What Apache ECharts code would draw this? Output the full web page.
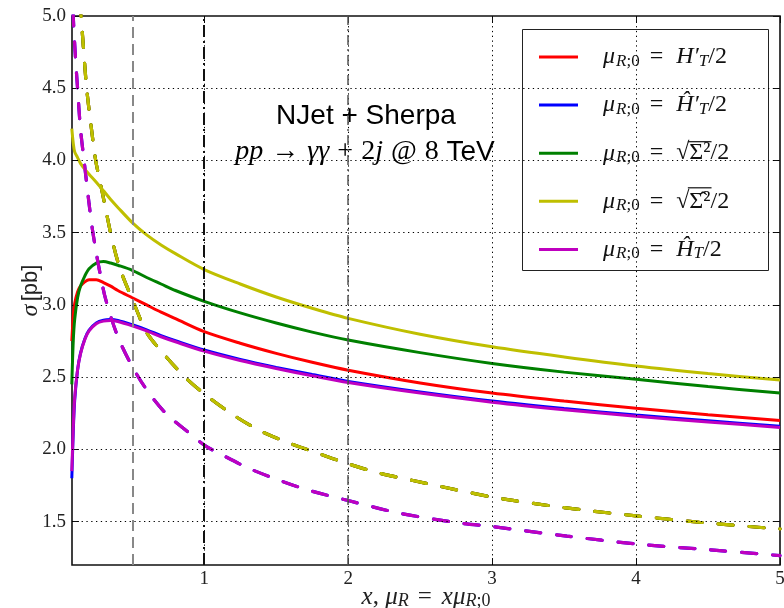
<!DOCTYPE html>
<html><head><meta charset="utf-8">
<script src="https://cdn.jsdelivr.net/npm/echarts@6/dist/echarts.min.js"></script>
<style>html,body{margin:0;padding:0;background:#fff}#c{width:784px;height:608px}</style>
</head><body><div id="c"></div>
<script>
// ---- data ----
const xNLO = [0.08, 0.09, 0.1, 0.12, 0.14, 0.17, 0.2, 0.25, 0.3, 0.35, 0.4, 0.5, 0.6, 0.7, 0.8, 1.0, 1.25, 1.5, 1.75, 2.0, 2.5, 3.0, 3.5, 4.0, 4.5, 5.0];
const redNLO     = [2.75, 2.92, 3.01, 3.09, 3.13, 3.16, 3.175, 3.175, 3.155, 3.13, 3.10, 3.05, 3.00, 2.95, 2.905, 2.815, 2.735, 2.665, 2.603, 2.548, 2.46, 2.39, 2.335, 2.285, 2.24, 2.20];
const blueNLO    = [1.80, 2.12, 2.34, 2.55, 2.665, 2.765, 2.826, 2.876, 2.895, 2.899, 2.893, 2.863, 2.828, 2.788, 2.753, 2.688, 2.623, 2.568, 2.518, 2.471, 2.398, 2.335, 2.283, 2.238, 2.198, 2.16];
const greenNLO   = [2.45, 2.75, 2.90, 3.05, 3.13, 3.20, 3.25, 3.29, 3.30, 3.29, 3.275, 3.24, 3.19, 3.145, 3.10, 3.025, 2.945, 2.875, 2.812, 2.757, 2.67, 2.595, 2.535, 2.485, 2.435, 2.39];
const yellowNLO  = [4.22, 4.12, 4.06, 4.02, 3.98, 3.94, 3.905, 3.85, 3.79, 3.73, 3.675, 3.57, 3.485, 3.415, 3.355, 3.245, 3.145, 3.055, 2.977, 2.907, 2.797, 2.71, 2.64, 2.577, 2.525, 2.48];
const magentaNLO = [1.85, 2.15, 2.36, 2.55, 2.66, 2.76, 2.82, 2.87, 2.888, 2.892, 2.885, 2.855, 2.82, 2.78, 2.745, 2.68, 2.615, 2.56, 2.51, 2.463, 2.39, 2.327, 2.275, 2.23, 2.19, 2.152];

const xLOa = [0.135, 0.144, 0.16, 0.183, 0.21, 0.246, 0.28, 0.31, 0.357, 0.415, 0.5, 0.6, 0.708, 0.859, 1.0, 1.2, 1.387, 1.6, 1.8, 2.0, 2.22, 2.45, 2.66, 3.0, 3.31, 3.6, 4.0, 4.44, 4.9, 5.0];
const loA     = [5.10, 5.00, 4.79, 4.50, 4.27, 4.00, 3.835, 3.69, 3.465, 3.25, 3.04, 2.81, 2.673, 2.507, 2.385, 2.24, 2.13, 2.04, 1.97, 1.90, 1.835, 1.785, 1.74, 1.67, 1.623, 1.585, 1.54, 1.496, 1.457, 1.45];
const xLOb = [0.085, 0.09, 0.105, 0.12, 0.14, 0.165, 0.18, 0.2, 0.222, 0.25, 0.276, 0.315, 0.392, 0.477, 0.588, 0.732, 0.889, 1.0, 1.132, 1.317, 1.526, 1.734, 2.0, 2.36, 2.776, 3.0, 3.52, 4.0, 4.51, 5.0];
const loB     = [5.25, 5.00, 4.72, 4.50, 4.22, 4.00, 3.87, 3.70, 3.53, 3.36, 3.22, 3.04, 2.80, 2.616, 2.43, 2.25, 2.119, 2.03, 1.958, 1.866, 1.785, 1.715, 1.646, 1.558, 1.49, 1.466, 1.40, 1.346, 1.305, 1.265];

const xTicks = [1, 2, 3, 4, 5];
const yTicks = [1.5, 2.0, 2.5, 3.0, 3.5, 4.0, 4.5, 5.0];
const xGrid = [1, 2, 3, 4];
const yGrid = [1.5, 2.0, 2.5, 3.0, 3.5, 4.0, 4.5];
const seriesNames = ['HTp', 'HTpHat', 'Sig', 'SigHat', 'HTHat'];
const legendLabels = {
  HTp:    '{mu|μ}{si|R}{su|;0}{eq|=}{it|H′}{si|T}{up|/2}',
  HTpHat: '{mu|μ}{si|R}{su|;0}{eq|=}{it|Ĥ′}{si|T}{up|/2}',
  Sig:    '{mu|μ}{si|R}{su|;0}{eq|=}{up|√}{ov|Σ²}{up|/2}',
  SigHat: '{mu|μ}{si|R}{su|;0}{eq|=}{up|√}{ov|Σ̂²}{up|/2}',
  HTHat:  '{mu|μ}{si|R}{su|;0}{eq|=}{it|Ĥ}{si|T}{up|/2}'
};

const C = {red:'#ff0000', blue:'#0000ff', green:'#008000', yellow:'#bfbf00', magenta:'#bf00bf'};
const pairs = (xs, ys) => xs.map((x, i) => [x, ys[i]]);
const SERIF = 'Liberation Serif';
const SANS = 'Liberation Sans';

function solid(name, color, ys) {
  return {name, type:'line', data: pairs(xNLO, ys), color, showSymbol:false, smooth:0.3,
    lineStyle:{color, width:3}, z:3};
}
function dashed(name, color, xs, ys) {
  return {name, type:'line', data: pairs(xs, ys), color, showSymbol:false, smooth:0.3,
    lineStyle:{color, width:3.2, type:[15, 16], cap:'round'}, z:3};
}

const gridLine = {color:'#000', width:1, type:[1.3, 3.5]};
const markData = [];
xGrid.forEach(v => markData.push({xAxis:v, lineStyle:gridLine}));
yGrid.forEach(v => markData.push({yAxis:v, lineStyle:gridLine}));
markData.push({xAxis:0.5, lineStyle:{color:'#888', width:2, type:[11, 6]}});
markData.push({xAxis:1, lineStyle:{color:'#111', width:2, type:[12, 4, 2, 4]}});
markData.push({xAxis:2, lineStyle:{color:'#555', width:1.5, type:[10, 4, 2, 4]}});

const LF = 24, LS = 17, EQL = 10, EQR = 13;
const richLeg = {
  mu:{fontFamily:SERIF, fontStyle:'italic', fontSize:LF, lineHeight:26, padding:[0,1,0,20]},
  it:{fontFamily:SERIF, fontStyle:'italic', fontSize:LF, lineHeight:26},
  up:{fontFamily:SERIF, fontSize:LF, lineHeight:26},
  eq:{fontFamily:SERIF, fontSize:LF, lineHeight:26, padding:[0,EQR,0,EQL]},
  ov:{fontFamily:SERIF, fontSize:LF, lineHeight:26},
  si:{fontFamily:SERIF, fontStyle:'italic', fontSize:LS, lineHeight:13, verticalAlign:'bottom'},
  su:{fontFamily:SERIF, fontSize:LS, lineHeight:13, verticalAlign:'bottom'}
};

const option = {
  animation:false,
  backgroundColor:'#fff',
  grid:{left:72, top:16, right:4, bottom:43, show:true, outerBoundsMode:'none', containLabel:false,
        borderColor:'#111', borderWidth:1.6, backgroundColor:'rgba(0,0,0,0)'},
  xAxis:[
    {type:'value', min:0.0813, max:5, position:'bottom',
     axisLine:{show:false}, splitLine:{show:false},
     axisTick:{show:true, inside:true, length:7, customValues:xTicks, lineStyle:{color:'#111', width:1}},
     axisLabel:{customValues:xTicks, margin:5, fontFamily:SERIF, fontSize:19, color:'#222'},
     name:'{it|x}{up|, }{it|μ}{si|R}{eq|=}{it|xμ}{si|R}{su|;0}', nameLocation:'middle', nameGap:19, nameMoveOverlap:false,
     nameTextStyle:{color:'#222', rich:{
       it:{fontFamily:SERIF, fontStyle:'italic', fontSize:25, lineHeight:26},
       up:{fontFamily:SERIF, fontSize:25, lineHeight:26},
       eq:{fontFamily:SERIF, fontSize:25, lineHeight:26, padding:[0,10,0,9]},
       si:{fontFamily:SERIF, fontStyle:'italic', fontSize:18, lineHeight:13, verticalAlign:'bottom'},
       su:{fontFamily:SERIF, fontSize:18, lineHeight:13, verticalAlign:'bottom'}
     }}},
    {type:'value', min:0.0813, max:5, position:'top',
     axisLine:{show:false}, splitLine:{show:false},
     axisTick:{show:true, inside:true, length:7, customValues:xTicks, lineStyle:{color:'#111', width:1}},
     axisLabel:{show:false}}
  ],
  yAxis:[
    {type:'value', min:1.2, max:5, position:'left',
     axisLine:{show:false}, splitLine:{show:false},
     axisTick:{show:true, inside:true, length:7, customValues:yTicks, lineStyle:{color:'#111', width:1}},
     axisLabel:{customValues:yTicks, margin:6, fontFamily:SERIF, fontSize:19, color:'#222', formatter:v => v.toFixed(1)},
     name:'{it|σ} {sf|[pb]}', nameLocation:'middle', nameGap:29, nameRotate:90, nameMoveOverlap:false,
     nameTextStyle:{color:'#222', rich:{
       it:{fontFamily:SERIF, fontStyle:'italic', fontSize:24},
       sf:{fontFamily:SANS, fontSize:22}
     }}},
    {type:'value', min:1.2, max:5, position:'right',
     axisLine:{show:false}, splitLine:{show:false},
     axisTick:{show:true, inside:true, length:7, customValues:yTicks, lineStyle:{color:'#111', width:1}},
     axisLabel:{show:false}}
  ],
  legend:{
    orient:'vertical', left:539, top:45, padding:0, itemWidth:39, itemHeight:3, itemGap:23.1,
    icon:'rect', z:6,
    data:seriesNames,
    formatter:n => legendLabels[n],
    textStyle:{color:'#111', rich:richLeg}
  },
  graphic:[
    {id:'legbox', type:'rect', shape:{x:522.5, y:29.5, width:246, height:241}, style:{fill:'#fff', stroke:'#222', lineWidth:1}, z:5},
    {id:'t1', type:'text', x:366, y:116, z:5, style:{text:'NJet + Sherpa', font:'28px "Liberation Sans"', fill:'#000', align:'center', verticalAlign:'middle'}},
    {id:'t2', type:'text', x:365, y:152, z:5, style:{
      text:'{mi|pp}{mo|→}{mi|γγ}{mo|+}{up|2}{mi|j}{mo|@}{up|8}{sf| TeV}',
      align:'center', verticalAlign:'middle', fill:'#000',
      rich:{
        mi:{fontFamily:SERIF, fontStyle:'italic', fontSize:28, lineHeight:30},
        up:{fontFamily:SERIF, fontSize:28, lineHeight:30},
        mo:{fontFamily:SERIF, fontSize:28, lineHeight:30, padding:[0,8,0,8]},
        sf:{fontFamily:SANS, fontSize:28, lineHeight:30}
      }}}
  ],
  series:[
    {name:'grid', type:'line', data:[], z:1, silent:true,
     markLine:{silent:true, symbol:'none', label:{show:false}, animation:false, data:markData}},
    solid('HTp', C.red, redNLO),
    dashed('HTp LO', C.red, xLOa, loA),
    solid('HTpHat', C.blue, blueNLO),
    dashed('HTpHat LO', C.blue, xLOb, loB),
    solid('Sig', C.green, greenNLO),
    dashed('Sig LO', C.green, xLOa, loA),
    solid('SigHat', C.yellow, yellowNLO),
    dashed('SigHat LO', C.yellow, xLOa, loA),
    solid('HTHat', C.magenta, magentaNLO),
    dashed('HTHat LO', C.magenta, xLOb, loB)
  ]
};
const chart = echarts.init(document.getElementById('c'), null, {renderer:'canvas'});
chart.setOption(option);

// overline of the square roots in the legend, placed from the laid-out legend text
(function addOverlines() {
  try {
    const lm = chart.getModel().getComponent('legend');
    const view = chart.getViewOfComponentModel(lm);
    const texts = [];
    view.getContentGroup().traverse(el => { if (el.type === 'text') texts.push(el); });
    const ctx = document.createElement('canvas').getContext('2d');
    const wOf = (font, s) => { ctx.font = font; return ctx.measureText(s).width; };
    const fIt = 'italic normal ' + LF + 'px ' + SERIF;
    const fUp = 'normal normal ' + LF + 'px ' + SERIF;
    const fSi = 'italic normal ' + LS + 'px ' + SERIF;
    const fSu = 'normal normal ' + LS + 'px ' + SERIF;
    const els = [];
    [[2, 'Σ²'], [3, 'Σ̂²']].forEach(([i, s]) => {
      const t = texts[i]; if (!t) return;
      const r = t.getBoundingRect().clone();
      r.applyTransform(t.getComputedTransform());
      const pre = 21 + wOf(fIt, 'μ') + wOf(fSi, 'R') + wOf(fSu, ';0') + EQL + EQR + wOf(fUp, '=') + wOf(fUp, '√');
      const ovW = wOf(fUp, s);
      const y = r.y + r.height / 2 - (i === 3 ? 14 : 12);
      els.push({id:'ov' + i, type:'line', z:7, shape:{x1:r.x + pre - 1.5, y1:y, x2:r.x + pre + ovW + 1, y2:y},
                style:{stroke:'#111', lineWidth:1.2}});
    });
    if (els.length) chart.setOption({graphic: els});
  } catch (e) { console.error(e); }
})();
</script></body></html>
